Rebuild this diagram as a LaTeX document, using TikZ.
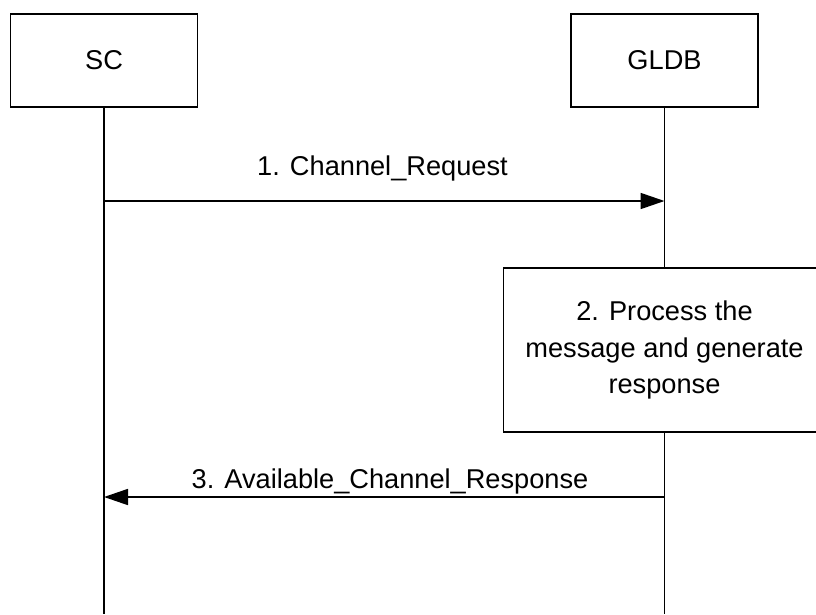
\documentclass[tikz,border=0pt]{standalone}
\usepackage{fontspec}
\setmainfont{Liberation Sans}
\usetikzlibrary{arrows.meta}

\begin{document}
\begin{tikzpicture}[x=0.75pt,y=-0.75pt,
  entity/.style={draw,line width=1.3pt,minimum width=140.25pt,minimum height=69.75pt,
    font=\fontsize{20.4}{27.5}\selectfont},
  lifeline/.style={line width=1.3pt},
  msg/.style={line width=1.3pt,-{Triangle[length=18pt,width=12pt]}},
  msglabel/.style={font=\fontsize{20.4}{25.5}\selectfont,anchor=base,inner sep=0pt}]
\newcommand{\ybot}{614}
\newcommand{\xsc}{104}
\newcommand{\xgl}{664.5}
\useasboundingbox (0,0) rectangle (816,614);
\clip (0,0) rectangle (816,614);

\node[entity] (sc) at (\xsc,60.5) {SC};
\node[entity] (gldb) at (\xgl,60.5) {GLDB};
\node[entity,minimum width=241.5pt,minimum height=123pt,fill=white,align=center] (proc) at (\xgl,350) {2. Process the\\message and generate\\response};

% lifelines
\coordinate (scend) at (\xsc,\ybot);
\coordinate (gldbend) at (\xgl,\ybot);
\draw[lifeline] (sc.south) -- (scend);
\draw[lifeline] (gldb.south) -- (proc.north);
\draw[lifeline] (proc.south) -- (gldbend);

% messages
\coordinate (reqfrom) at (\xsc,201);
\coordinate (reqto) at (\xgl,201);
\draw[msg] (reqfrom) -- (reqto);
\node[msglabel] (reqlbl) at (382.5,175) {1. Channel\_Request};

\coordinate (rspfrom) at (\xgl,497);
\coordinate (rspto) at (\xsc,497);
\draw[msg] (rspfrom) -- (rspto);
\node[msglabel] (rsplbl) at (390,488) {3. Available\_Channel\_Response};
\end{tikzpicture}
\end{document}
